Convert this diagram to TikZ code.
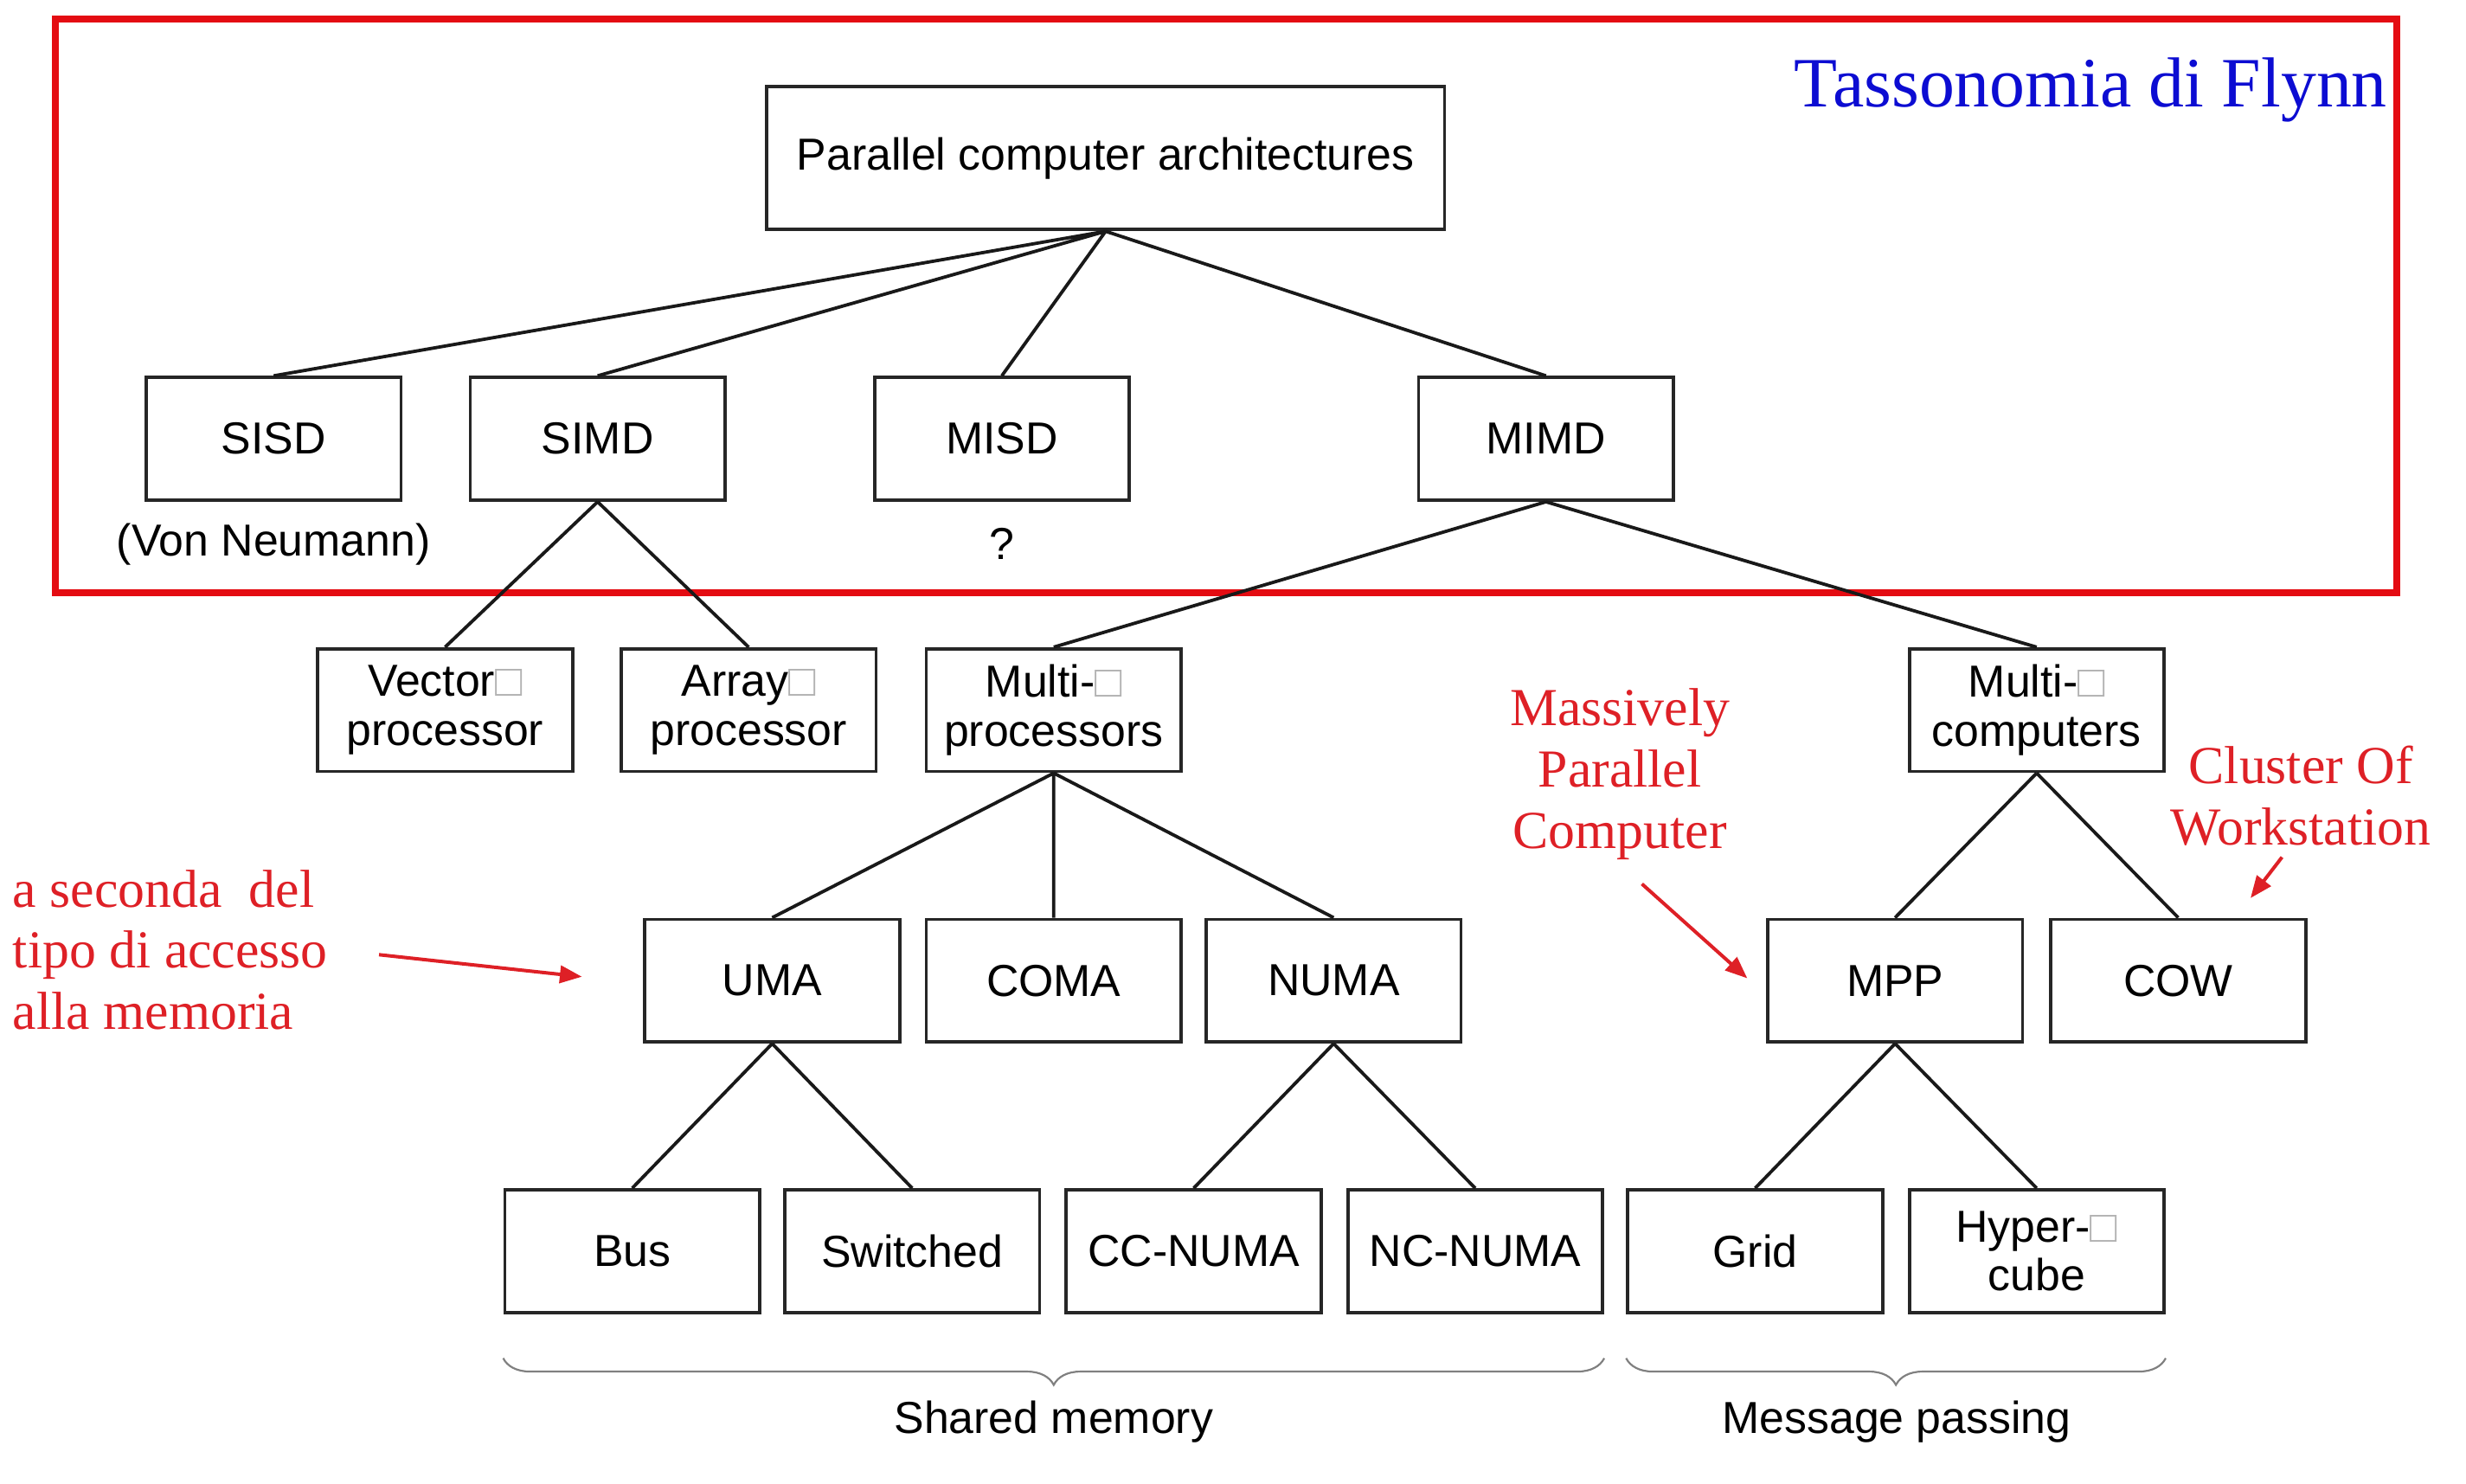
\documentclass[tikz,border=0pt]{standalone}
\usepackage{fontspec}
\usepackage{tikz}
\usetikzlibrary{arrows.meta,decorations.pathreplacing}
\setmainfont{Liberation Sans}
\newfontfamily\notefont{Liberation Serif}
\definecolor{flynn-red}{RGB}{228,12,18}
\definecolor{flynn-blue}{RGB}{12,12,210}
\definecolor{note-red}{RGB}{222,32,38}
\newcommand{\tofu}{{\color{black!30}□}}
\tikzset{
    arch-box/.style = {draw=black!85, line width=2.1pt, rectangle, minimum width=162pt, minimum height=78pt, inner sep=2pt, align=center, font=\fontsize{28.5}{31}\selectfont},
    arch-label/.style = {font=\fontsize{28.5}{31}\selectfont, inner sep=0pt},
    arch-link/.style = {draw=black!90, line width=2.1pt},
    flynn-frame/.style = {draw=flynn-red, line width=4.5pt},
    note-text/.style = {text=note-red, font=\notefont\fontsize{34}{39}\selectfont, align=center, inner sep=0pt},
    note-arrow/.style = {draw=note-red, line width=2.2pt, -{Triangle[length=14pt,width=11pt]}},
    group-brace/.style = {draw=black!50, line width=1.2pt, decorate, decoration={brace, mirror, amplitude=17pt}},
}
\begin{document}
\begin{tikzpicture}[x=1pt, y=-1pt]
\useasboundingbox (0,0) rectangle (1568,943);
\draw[flynn-frame] (35,12) rectangle (1524,377);
\node[text=flynn-blue, font=\notefont\fontsize{45}{45}\selectfont, anchor=base east, inner sep=0pt] (title) at (1518,68) {Tassonomia di Flynn};

\node[arch-box, minimum width=431pt, minimum height=91pt] (root) at (703,100.5) {Parallel computer architectures};

\node[arch-box] (sisd) at (174,279) {SISD};
\node[arch-box] (simd) at (380,279) {SIMD};
\node[arch-box] (misd) at (637,279) {MISD};
\node[arch-box] (mimd) at (983,279) {MIMD};
\node[arch-label] (vonneumann) at (174,346) {(Von Neumann)};
\node[arch-label] (unknown) at (637,346) {?};

\node[arch-box] (vector) at (283,451.5) {Vector\tofu\\processor};
\node[arch-box] (array) at (476,451.5) {Array\tofu\\processor};
\node[arch-box] (multiproc) at (670,451.5) {Multi-\tofu\\processors};
\node[arch-box] (multicomp) at (1295,451.5) {Multi-\tofu\\computers};

\node[arch-box] (uma) at (491,623.5) {UMA};
\node[arch-box] (coma) at (670,623.5) {COMA};
\node[arch-box] (numa) at (848,623.5) {NUMA};
\node[arch-box] (mpp) at (1205,623.5) {MPP};
\node[arch-box] (cow) at (1385,623.5) {COW};

\node[arch-box] (bus) at (402,795.5) {Bus};
\node[arch-box] (switched) at (580,795.5) {Switched};
\node[arch-box] (ccnuma) at (759,795.5) {CC-NUMA};
\node[arch-box] (ncnuma) at (938,795.5) {NC-NUMA};
\node[arch-box] (grid) at (1116,795.5) {Grid};
\node[arch-box] (hypercube) at (1295,795.5) {Hyper-\tofu\\cube};

\draw[arch-link] (root.south) -- (sisd.north) (root.south) -- (simd.north) (root.south) -- (misd.north) (root.south) -- (mimd.north);
\draw[arch-link] (simd.south) -- (vector.north) (simd.south) -- (array.north);
\draw[arch-link] (mimd.south) -- (multiproc.north) (mimd.south) -- (multicomp.north);
\draw[arch-link] (multiproc.south) -- (uma.north) (multiproc.south) -- (coma.north) (multiproc.south) -- (numa.north);
\draw[arch-link] (multicomp.south) -- (mpp.north) (multicomp.south) -- (cow.north);
\draw[arch-link] (uma.south) -- (bus.north) (uma.south) -- (switched.north);
\draw[arch-link] (numa.south) -- (ccnuma.north) (numa.south) -- (ncnuma.north);
\draw[arch-link] (mpp.south) -- (grid.north) (mpp.south) -- (hypercube.north);

\draw[group-brace] ([yshift=-28pt]bus.south west) -- ([yshift=-28pt]ncnuma.south east);
\draw[group-brace] ([yshift=-28pt]grid.south west) -- ([yshift=-28pt]hypercube.south east);
\node[arch-label] (shared) at (670,904) {Shared memory};
\node[arch-label] (msgpass) at (1206,904) {Message passing};

\node[note-text, align=left, anchor=west] (access) at (8,604) {a seconda\ \ del\\tipo di accesso\\alla memoria};
\node[note-text] (massive) at (1030,492) {Massively\\Parallel\\Computer};
\node[note-text] (cluster) at (1463,506) {Cluster Of\\Workstation};

\coordinate (access-tail) at (241,607);
\coordinate (uma-pointer) at (370,621);
\coordinate (massive-tail) at (1044,562);
\coordinate (mpp-pointer) at (1111,622);
\coordinate (cluster-tail) at (1451,545);
\coordinate (cow-pointer) at (1431,571);
\draw[note-arrow] (access-tail) -- (uma-pointer);
\draw[note-arrow] (massive-tail) -- (mpp-pointer);
\draw[note-arrow] (cluster-tail) -- (cow-pointer);
\end{tikzpicture}
\end{document}
